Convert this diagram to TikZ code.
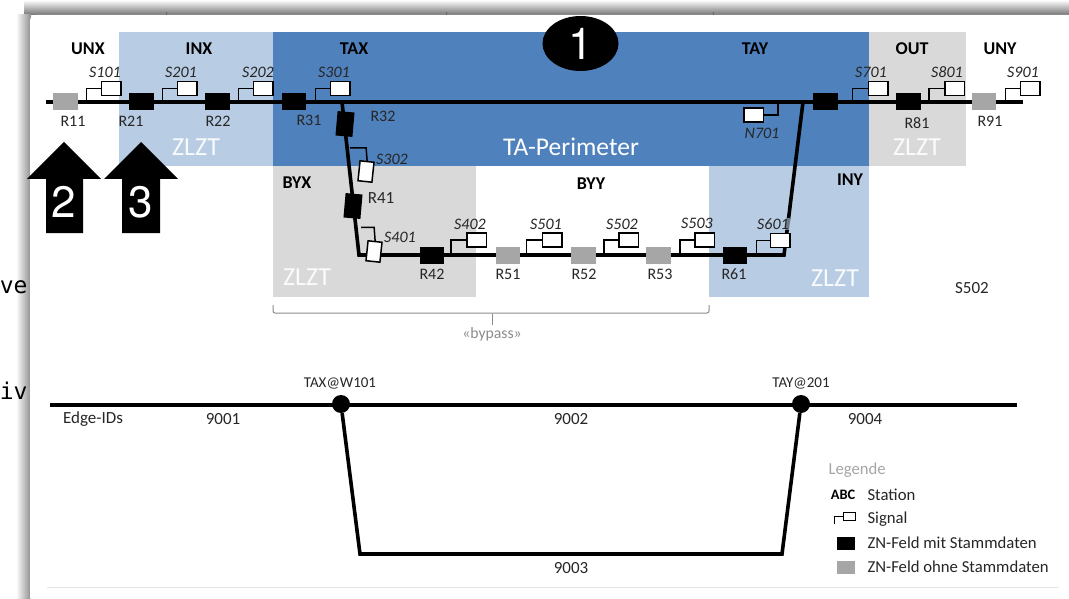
\documentclass[tikz,border=0pt]{standalone}
\usepackage{fontspec}
\setmainfont{Carlito}
\newfontfamily\callfont{TeX Gyre Heros}
\newfontfamily\codefont{DejaVu Sans Mono}
\usetikzlibrary{calc,positioning,shapes.geometric}
\definecolor{taBlue}{HTML}{4F81BD}
\definecolor{zoneBlue}{HTML}{B8CCE4}
\definecolor{zoneGray}{HTML}{D9D9D9}
\definecolor{fieldGray}{HTML}{A6A6A6}
\definecolor{textDark}{HTML}{262626}

\begin{document}
\begin{tikzpicture}[
    x=1pt, y=-1pt,
    font=\fontsize{16}{18}\selectfont, text=textDark,
    zone/.style={draw=none, fill=#1},
    track/.style={line width=3.6pt, black},
    field/.style={minimum width=24.5pt, minimum height=17pt, inner sep=0pt, fill=black},
    fieldoff/.style={field, fill=fieldGray},
    fieldup/.style={field, minimum width=17pt, minimum height=24.5pt, rotate=-5},
    signal/.style={draw=black, line width=1.5pt, fill=white, inner sep=0pt,
      minimum width=19.5pt, minimum height=14pt},
    signalup/.style={signal, minimum width=14pt, minimum height=20pt, rotate=-6},
    stem/.style={draw=black, line width=1.5pt},
    signame/.style={font=\fontsize{16}{18}\selectfont\itshape},
    station/.style={font=\fontsize{18}{20}\selectfont\bfseries, text=black},
    zlzt/.style={font=\fontsize{26}{29}\selectfont, text=white, opacity=0.9},
    numlabel/.style={font=\fontsize{17}{19}\selectfont},
    nodelabel/.style={font=\fontsize{15}{17}\selectfont},
    callnum/.style={font=\fontsize{44}{48}\callfont, text=white},
    callout/.style={fill=black},
    edgenode/.style={circle, fill=black, minimum size=18pt, inner sep=0pt},
    legendtext/.style={anchor=west, font=\fontsize{16.7}{19}\selectfont}
  ]
    \useasboundingbox (0,0) rectangle (1069,599);

    % window behind the picture
    \shade[top color=white, bottom color=black!55] (24,0) rectangle (1069,15);
    \shade[left color=white, right color=black!45] (16,15) rectangle (31,599);
    \node[anchor=east, font=\fontsize{23}{26}\codefont, text=black] (cutA) at (31,287) {ve};
    \node[anchor=east, font=\fontsize{23}{26}\codefont, text=black] (cutB) at (31,391) {iv};
    \fill[white, rounded corners=6pt] (30,15) rectangle (1090,603);
    \draw[black!60, line width=1pt] (166,12) -- (166,15) (446,12) -- (446,15) (713,12) -- (713,15);

    % zones
    \fill[zone=zoneBlue] (119,32) rectangle (273,166);
    \fill[zone=taBlue] (273,32) rectangle (869,166);
    \fill[zone=zoneGray] (869,32) rectangle (966,166);
    \fill[zone=zoneGray] (273,166) rectangle (476,297);
    \fill[zone=zoneBlue] (709,166) rectangle (869,297);

    \node[station] (unx) at (88,49) {UNX};
    \node[station] (inx) at (199,49) {INX};
    \node[station] (tax) at (354,49) {TAX};
    \node[station] (tay) at (755,49) {TAY};
    \node[station] (out) at (912,49) {OUT};
    \node[station] (uny) at (1000,49) {UNY};
    \node[station] (byx) at (297,183) {BYX};
    \node[station] (byy) at (591,184) {BYY};
    \node[station] (iny) at (850,180) {INY};

    \node[zlzt] (zlztInx) at (196,147) {ZLZT};
    \node[zlzt] (zlztOut) at (917,147) {ZLZT};
    \node[zlzt] (zlztByx) at (307,277) {ZLZT};
    \node[zlzt] (zlztIny) at (835,278) {ZLZT};
    \node[font=\fontsize{25.5}{28}\selectfont, text=white] (perimeter) at (571,147) {TA-Perimeter};

    % track
    \coordinate (trackW) at (46,102);
    \coordinate (trackE) at (1023,102);
    \coordinate (bypassA) at (342,102);
    \coordinate (bypassB) at (359,255);
    \coordinate (bypassC) at (784,255);
    \coordinate (bypassD) at (803,102);
    \draw[track] (trackW) -- (trackE);
    \draw[track, line join=miter] (bypassA) -- (bypassB) -- (bypassC) -- (bypassD);

    % fields
    \node[fieldoff] (r11) at (65.5,102) {};
    \node[field] (r21) at (141.5,102) {};
    \node[field] (r22) at (217.5,102) {};
    \node[field] (r31) at (294,102) {};
    \node[fieldup] (r32) at (345,124) {};
    \node[fieldup] (r41) at (353,206) {};
    \node[field] (r42) at (432,255) {};
    \node[fieldoff] (r51) at (508,255) {};
    \node[fieldoff] (r52) at (583.5,255) {};
    \node[fieldoff] (r53) at (658.5,255) {};
    \node[field] (r61) at (735,255) {};
    \node[field] (r71) at (825.5,102) {};
    \node[field] (r81) at (908.5,102) {};
    \node[fieldoff] (r91) at (984,102) {};

    \node (r11name) at (73,121) {R11};
    \node (r21name) at (131,121) {R21};
    \node (r22name) at (218,121) {R22};
    \node (r31name) at (309,120) {R31};
    \node (r32name) at (383,116) {R32};
    \node[numlabel] (r41name) at (381,198) {R41};
    \node (r42name) at (432,274) {R42};
    \node (r51name) at (508,274) {R51};
    \node (r52name) at (584,274) {R52};
    \node (r53name) at (660,274) {R53};
    \node (r61name) at (734,274) {R61};
    \node (r81name) at (917,123) {R81};
    \node (r91name) at (990,121) {R91};
    \node[numlabel] (s502free) at (972,288) {S502};

    % signals
    \node[signal] (s101) at (111,88.5) {};
    \node[signal] (s201) at (187,88.5) {};
    \node[signal] (s202) at (263,88.5) {};
    \node[signal] (s301) at (340,88.5) {};
    \node[signal] (s701) at (878,88.5) {};
    \node[signal] (s801) at (954.5,88.5) {};
    \node[signal] (s901) at (1030,88.5) {};
    \node[signal] (n701) at (753.5,115) {};
    \node[signal] (s402) at (476.5,240) {};
    \node[signal] (s501) at (552,240) {};
    \node[signal] (s502) at (628.5,240) {};
    \node[signal] (s503) at (704.5,240) {};
    \node[signal] (s601) at (780,240.5) {};
    \node[signalup] (s302) at (366,171.5) {};
    \node[signalup] (s401) at (374,251.5) {};

    \draw[stem] (s101.west) -| ++(-14,13);
    \draw[stem] (s201.west) -| ++(-14,13);
    \draw[stem] (s202.west) -| ++(-14,13);
    \draw[stem] (s301.west) -| ++(-14,13);
    \draw[stem] (s701.west) -| ++(-15,13);
    \draw[stem] (s801.west) -| ++(-15,13);
    \draw[stem] (s901.west) -| ++(-14,13);
    \draw[stem] (n701.east) -| ++(14,-13);
    \draw[stem] (s402.west) -| ++(-15,15);
    \draw[stem] (s501.west) -| ++(-15,15);
    \draw[stem] (s502.west) -| ++(-14,15);
    \draw[stem] (s503.west) -| ++(-14,15);
    \draw[stem] (s601.west) -| ++(-13,14.5);
    \draw[stem] (s302.north) -- ++(-1,-13) -- ++(-16,0);
    \draw[stem] (s401.north) -- ++(-1,-13.5) -- ++(-13,0);

    \node[signame] (s101name) at (105,72) {S101};
    \node[signame] (s201name) at (181,72) {S201};
    \node[signame] (s202name) at (258,72) {S202};
    \node[signame] (s301name) at (334,72) {S301};
    \node[signame] (s701name) at (871,72) {S701};
    \node[signame] (s801name) at (947,72) {S801};
    \node[signame] (s901name) at (1023,72) {S901};
    \node[signame] (n701name) at (762,133) {N701};
    \node[signame] (s302name) at (392,159) {S302};
    \node[signame] (s401name) at (400,237) {S401};
    \node[signame] (s402name) at (470,224) {S402};
    \node[signame] (s501name) at (546,224) {S501};
    \node[signame] (s502name) at (622,224) {S502};
    \node[signame] (s503name) at (697,223) {S503};
    \node[signame, fill=zoneBlue, fill opacity=0.6, text opacity=1, inner sep=1pt] (s601name) at (773,224) {S601};

    % bypass bracket
    \draw[black!45, line width=1pt, rounded corners=2pt] (273,305) -- (273,313) -- (709,313) -- (709,305);
    \node[font=\fontsize{15.7}{18}\selectfont, text=black!45, inner sep=2pt] (bypass) at (492,334) {«bypass»};
    \draw[black!45, line width=1pt] (bypass.north) -- ++(0,-11);

    % callouts
    \node[ellipse, fill=black, minimum width=76pt, minimum height=55pt, inner sep=0pt,
      font=\fontsize{44}{48}\callfont, text=white] (callA) at (580.5,43.5) {1};
    \fill[callout] (64,142) -- (101,179) -- (83,179) -- (83,233) -- (46,233) -- (46,179) -- (27,179) -- cycle;
    \fill[callout] (141,142) -- (178,179) -- (160,179) -- (160,233) -- (122,233) -- (122,179) -- (104,179) -- cycle;
    \node[callnum] (callB) at (64,202) {2};
    \node[callnum] (callC) at (141,202) {3};

    % edge graph
    \coordinate (edgeW) at (50,405);
    \coordinate (edgeE) at (1017,405);
    \coordinate (edgeB) at (360,554);
    \coordinate (edgeC) at (782,554);
    \node[edgenode] (wa) at (341,404) {};
    \node[edgenode] (wb) at (801,404) {};
    \draw[track] (edgeW) -- (edgeE);
    \draw[track, line join=miter] (wa) -- (edgeB) -- (edgeC) -- (wb);

    \node[nodelabel] (wa name) at (340,383) {TAX@W101};
    \node[nodelabel] (wb name) at (801,383) {TAY@201};
    \node[numlabel] (edgeids) at (93,419) {Edge-IDs};
    \node[numlabel] (e9001) at (223,419) {9001};
    \node[numlabel] (e9002) at (571,419) {9002};
    \node[numlabel] (e9004) at (865,419) {9004};
    \node[numlabel] (e9003) at (571,568) {9003};

    % legend
    \node[legendtext, text=black!35] (legend) at (825,470) {Legende};
    \node[font=\fontsize{14.4}{16}\selectfont\bfseries, text=black] (abc) at (843,495) {ABC};
    \node[legendtext] (lStation) at (864,495) {Station};
    \node[draw=black, line width=0.9pt, fill=white, minimum width=12pt, minimum height=8pt, inner sep=0pt] (lSignal) at (849,516) {};
    \draw[black, line width=0.9pt] (lSignal.west) -| ++(-8,8);
    \node[legendtext] (lSignalText) at (864,519) {Signal};
    \node[field, minimum width=18pt, minimum height=13pt] (lOn) at (846,543) {};
    \node[legendtext] (lOnText) at (864,543) {ZN-Feld mit Stammdaten};
    \node[fieldoff, minimum width=18pt, minimum height=13pt] (lOff) at (846,567) {};
    \node[legendtext] (lOffText) at (864,567) {ZN-Feld ohne Stammdaten};
    \draw[black!10, line width=0.7pt] (47,587) -- (1059,587);
\end{tikzpicture}
\end{document}
